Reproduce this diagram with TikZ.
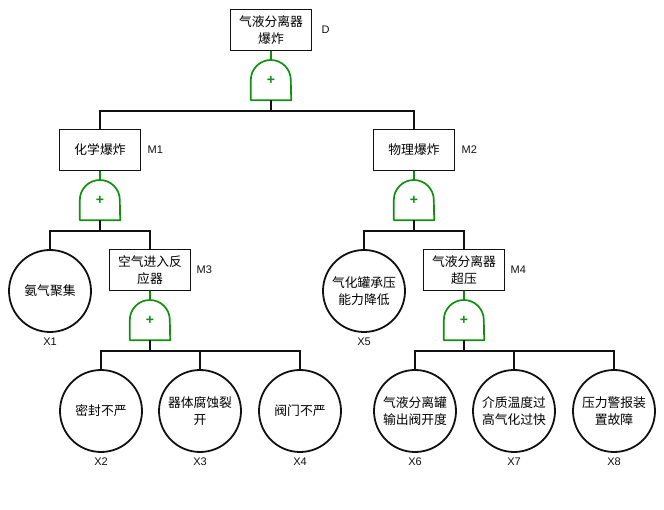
\documentclass[tikz,border=0pt]{standalone}
\usepackage{fontspec}
\setmainfont{Liberation Sans}
\newfontfamily\cjk{Noto Sans CJK SC}
\usepackage{xcolor}
\usetikzlibrary{positioning}
\definecolor{gategreen}{HTML}{108F10}
\definecolor{ink}{HTML}{111111}
\tikzset{
  event/.style    = {rectangle, draw=ink, line width=1.8pt, fill=white,
                     minimum width=81pt, minimum height=41pt, inner sep=2pt,
                     align=center, font=\cjk\fontsize{12.8}{16.5}\selectfont},
  basic/.style    = {circle, draw=ink, line width=1.8pt, fill=white,
                     minimum size=82pt, inner sep=0pt,
                     align=center, font=\cjk\fontsize{12.8}{16.5}\selectfont},
  gate/.style     = {minimum width=40pt, minimum height=40pt, inner sep=0pt,
                     text=gategreen, font=\bfseries\fontsize{14}{14}\selectfont},
  gateline/.style = {draw=gategreen, line width=1.7pt, line join=round},
  tag/.style      = {inner sep=0pt, text=ink, font=\fontsize{11}{12}\selectfont},
  conn/.style     = {draw=ink, line width=1.8pt},
  feed/.style     = {draw=gategreen, line width=1.8pt},
}

\begin{document}
\begin{tikzpicture}[x=1pt, y=-1pt]

  \fill[white] (0,0) rectangle (664,510);

  % events
  \node[event] (D)  at (271,30)  {气液分离器\\爆炸};
  \node[event] (M1) at (100,150) {化学爆炸};
  \node[event] (M2) at (414,150) {物理爆炸};
  \node[event] (M3) at (150,270) {空气进入反\\应器};
  \node[event] (M4) at (464,270) {气液分离器\\超压};

  % basic events
  \node[basic] (X1) at (50,291)  {氨气聚集};
  \node[basic] (X5) at (364,291) {气化罐承压\\能力降低};
  \node[basic] (X2) at (101,411) {密封不严};
  \node[basic] (X3) at (200,411) {器体腐蚀裂\\开};
  \node[basic] (X4) at (300,411) {阀门不严};
  \node[basic] (X6) at (415,411) {气液分离罐\\输出阀开度};
  \node[basic] (X7) at (514,411) {介质温度过\\高气化过快};
  \node[basic] (X8) at (614,411) {压力警报装\\置故障};

  % gates
  \node[gate] (gD)  at (271,80)  {+};
  \node[gate] (gM1) at (100,200) {+};
  \node[gate] (gM2) at (414,200) {+};
  \node[gate] (gM3) at (150,320) {+};
  \node[gate] (gM4) at (464,320) {+};
  \foreach \g in {gD,gM1,gM2,gM3,gM4}
    \draw[gateline] (\g.south west) -- (\g.west)
      arc[start angle=180, end angle=0, radius=20pt] -- (\g.south east) -- cycle;

  % labels
  \node[tag, right=9pt of D]  (lD)  {D};
  \node[tag, right=6pt of M1] (lM1) {M1};
  \node[tag, right=6pt of M2] (lM2) {M2};
  \node[tag, right=5pt of M3] (lM3) {M3};
  \node[tag, right=5pt of M4] (lM4) {M4};
  \node[tag, below=5pt of X1] (lX1) {X1};
  \node[tag, below=5pt of X2] (lX2) {X2};
  \node[tag, below=5pt of X3] (lX3) {X3};
  \node[tag, below=5pt of X4] (lX4) {X4};
  \node[tag, below=5pt of X5] (lX5) {X5};
  \node[tag, below=5pt of X6] (lX6) {X6};
  \node[tag, below=5pt of X7] (lX7) {X7};
  \node[tag, below=5pt of X8] (lX8) {X8};

  % connectors
  \draw[feed] (D.south) -- (gD.north);
  \draw[conn] (gD.south) -- ++(0,11) -| (M1.north);
  \draw[conn] (gD.south) -- ++(0,11) -| (M2.north);

  \draw[feed] (M1.south) -- (gM1.north);
  \draw[conn] (gM1.south) -- ++(0,11) -| (X1.north);
  \draw[conn] (gM1.south) -- ++(0,11) -| (M3.north);

  \draw[feed] (M2.south) -- (gM2.north);
  \draw[conn] (gM2.south) -- ++(0,11) -| (X5.north);
  \draw[conn] (gM2.south) -- ++(0,11) -| (M4.north);

  \draw[feed] (M3.south) -- (gM3.north);
  \draw[conn] (gM3.south) -- ++(0,11) -| (X2.north);
  \draw[conn] (gM3.south) -- ++(0,11) -| (X3.north);
  \draw[conn] (gM3.south) -- ++(0,11) -| (X4.north);

  \draw[feed] (M4.south) -- (gM4.north);
  \draw[conn] (gM4.south) -- ++(0,11) -| (X6.north);
  \draw[conn] (gM4.south) -- ++(0,11) -| (X7.north);
  \draw[conn] (gM4.south) -- ++(0,11) -| (X8.north);

\end{tikzpicture}
\end{document}
